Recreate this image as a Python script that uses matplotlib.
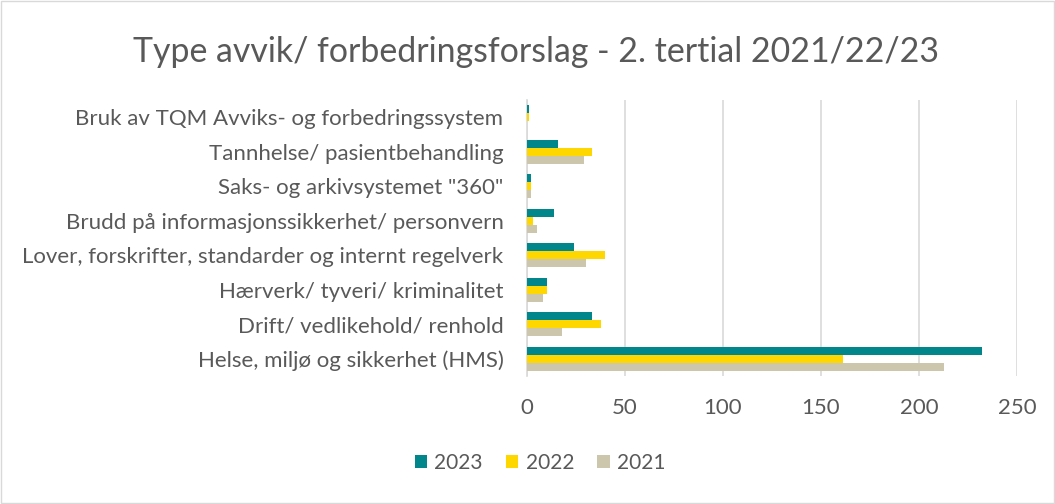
import matplotlib.pyplot as plt
import numpy as np
from matplotlib.patches import Rectangle

# kategorier, nederst først
kategorier = ["Helse, miljø og sikkerhet (HMS)", "Drift/ vedlikehold/ renhold",
              "Hærverk/ tyveri/ kriminalitet",
              "Lover, forskrifter, standarder og internt regelverk",
              "Brudd på informasjonssikkerhet/ personvern",
              'Saks- og arkivsystemet "360"', "Tannhelse/ pasientbehandling",
              "Bruk av TQM Avviks- og forbedringssystem"]
verdier_2023 = [232, 33, 10, 24, 14, 2, 16, 1]
verdier_2022 = [161, 38, 10, 40, 3, 2, 33, 1]
verdier_2021 = [213, 18, 8, 30, 5, 2, 29, 0]
aar = ["2023", "2022", "2021"]
farger = ["#00868B", "#FFD700", "#CCC7AC"]

plt.rcParams['font.family'] = ['Lato', 'DejaVu Sans']
tekstfarge = "#595959"

fig = plt.figure(figsize=(10.55, 5.04), dpi=100)
ax = fig.add_axes([527 / 1055, 1 - 376 / 504, 490 / 1055, 276 / 504])

y = np.arange(len(kategorier))
h = 0.235
for i, (serie, navn, farge) in enumerate(zip([verdier_2023, verdier_2022, verdier_2021], aar, farger)):
    ax.barh(y + h * (1 - i), serie, height=h, color=farge, label=navn, zorder=3)

ax.set_xlim(0, 250)
ax.set_ylim(-0.5, len(kategorier) - 0.5)
ax.set_xticks(range(0, 251, 50))
ax.set_yticks(y)
ax.set_yticklabels(kategorier)
ax.grid(axis='x', color='#D9D9D9', linewidth=1.2, zorder=0)
for s in ['top', 'right', 'bottom']:
    ax.spines[s].set_visible(False)
ax.spines['left'].set_color('#D9D9D9')
ax.spines['left'].set_linewidth(1.2)
ax.tick_params(axis='both', length=0, labelsize=16, colors=tekstfarge)
ax.tick_params(axis='x', pad=16)
ax.tick_params(axis='y', pad=17)

fig.text(536 / 1055, 1 - 52 / 504, "Type avvik/ forbedringsforslag - 2. tertial 2021/22/23",
         ha='center', va='center', fontsize=24.4, color=tekstfarge)

fig.legend(loc='center', bbox_to_anchor=(540 / 1055, 1 - 463 / 504), ncol=3, frameon=False,
           fontsize=15, labelcolor=tekstfarge, handlelength=0.6, handleheight=0.6,
           handletextpad=0.35, columnspacing=1.1)

fig.patches.append(Rectangle((0.001, 0.001), 0.998, 0.997, transform=fig.transFigure,
                             fill=False, edgecolor='#D9D9D9', linewidth=1))

fig.savefig("out.png", dpi=100)
